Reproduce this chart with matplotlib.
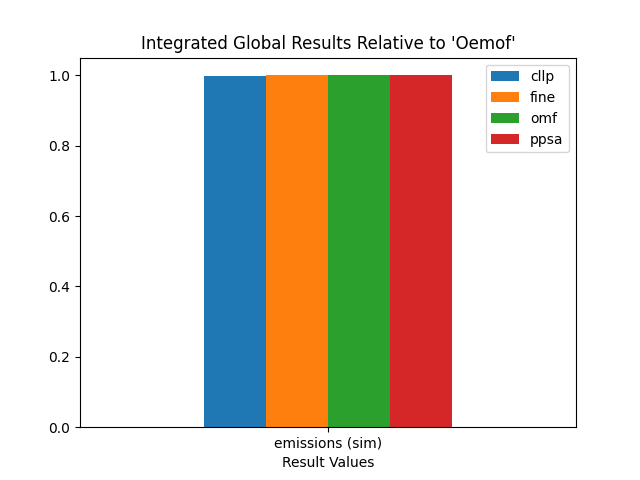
import matplotlib
matplotlib.use("Agg")
import matplotlib.pyplot as plt
import numpy as np

categories = ["emissions (sim)"]
series = ["cllp", "fine", "omf", "ppsa"]
values = {"cllp": [0.997], "fine": [1.0], "omf": [1.0], "ppsa": [1.0]}
colors = ["#1f77b4", "#ff7f0e", "#2ca02c", "#d62728"]

fig, ax = plt.subplots(figsize=(6.4, 4.8), dpi=100)
x = np.arange(len(categories))
w = 0.5 / len(series)
for i, s in enumerate(series):
    ax.bar(x - 0.25 + w / 2 + i * w, values[s], w, color=colors[i], label=s)
ax.set_xlim(-0.5, len(categories) - 0.5)
ax.set_xticks(x)
ax.set_xticklabels(categories)
ax.set_xlabel("Result Values")
ax.set_title("Integrated Global Results Relative to 'Oemof'")
ax.legend(loc="upper right")
fig.savefig("out.png")
